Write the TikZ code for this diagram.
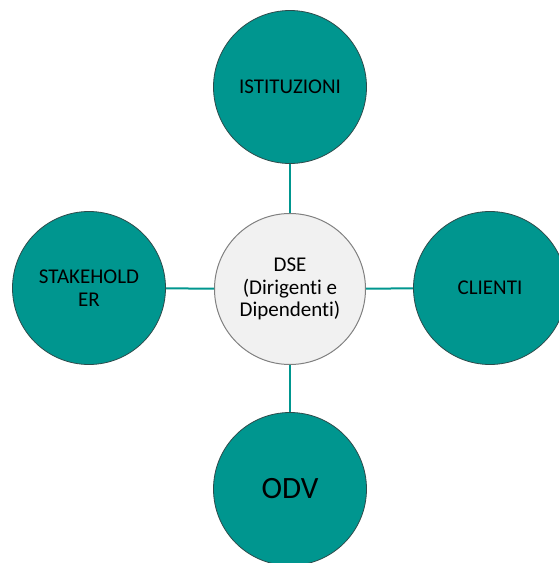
\documentclass[tikz,border=0pt]{standalone}
\usepackage{fontspec}
\setmainfont[Ligatures=NoCommon]{Carlito}
\definecolor{tealfill}{RGB}{0,150,143}
\definecolor{tealedge}{RGB}{45,75,75}
\definecolor{centerfill}{RGB}{241,241,241}
\definecolor{centeredge}{RGB}{128,128,128}
\begin{document}
\begin{tikzpicture}[x=1pt,y=-1pt,
  outer/.style={circle,minimum size=153pt,inner sep=0pt,fill=tealfill,draw=tealedge,line width=0.8pt,align=center,font=\fontsize{21}{22.5}\selectfont},
  inner/.style={circle,minimum size=151pt,inner sep=0pt,fill=centerfill,draw=centeredge,line width=1pt,align=center,font=\fontsize{21}{22.5}\selectfont},
  link/.style={draw=tealfill,line width=2pt}]
\useasboundingbox (0,0) rectangle (558,563);
\node[inner] (c) at (290,289) {DSE\\(Dirigenti e\\Dipendenti)};
\node[outer] (t) at (290,87) {ISTITUZIONI};
\node[outer] (l) at (89,288) {STAKEHOLD\\ER};
\node[outer] (r) at (490,288) {CLIENTI};
\node[outer,font=\fontsize{31}{34}\selectfont] (b) at (290,489) {ODV};
\draw[link] (t) -- (c);
\draw[link] (l) -- (c);
\draw[link] (r) -- (c);
\draw[link] (b) -- (c);
\end{tikzpicture}
\end{document}
